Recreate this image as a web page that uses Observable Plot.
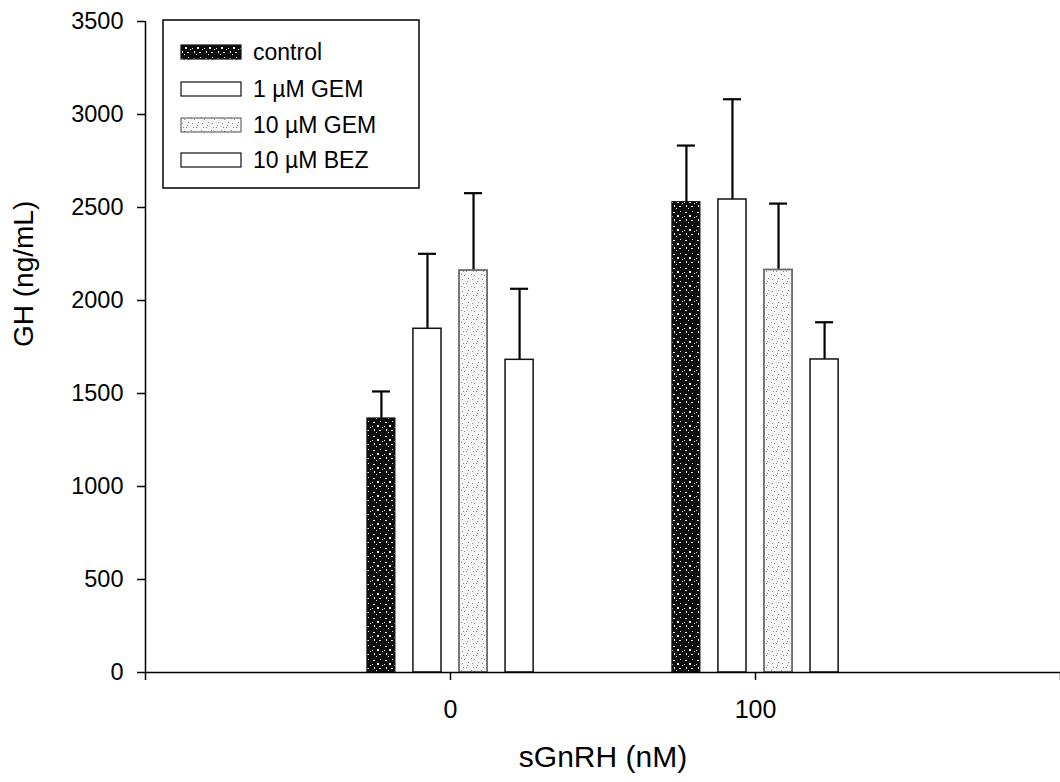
<!DOCTYPE html>
<html>
<head>
<meta charset="utf-8">
<script src="https://cdn.jsdelivr.net/npm/d3@7"></script>
<script src="https://cdn.jsdelivr.net/npm/@observablehq/plot@0.6"></script>
<style>
  html, body { margin: 0; padding: 0; background: #fff; }
  #chart svg { display: block; }
</style>
</head>
<body>
<div id="chart"></div>
<script>
// ---- data ----
const doses = [0, 100];
const series = ["control", "1 µM GEM", "10 µM GEM", "10 µM BEZ"];
const mean0 = [1366, 1848, 2161, 1681];
const err0 = [145, 403, 416, 382];
const mean100 = [2529, 2543, 2164, 1683];
const err100 = [304, 539, 357, 200];
const xTicks = [-100, 0, 100, 200];
const xTickLabels = ["", "0", "100", ""];
const yTicks = [0, 500, 1000, 1500, 2000, 2500, 3000, 3500];
const xTitle = "sGnRH (nM)";
const yTitle = "GH (ng/mL)";

// ---- table built from the arrays ----
const means = [mean0, mean100];
const errs = [err0, err100];
const rows = [];
doses.forEach((dose, gi) => {
  series.forEach((s, si) => {
    rows.push({dose, series: s, mean: means[gi][si], err: errs[gi][si]});
  });
});

// within-group offset (data units of x)
const inner = d3.scaleBand().domain(series).range([-30.2, 30.2]).paddingInner(0.39).paddingOuter(0.195);
const bw = inner.bandwidth();
const left = d => d.dose + inner(d.series);
const center = d => left(d) + bw / 2;
const capHalf = 2.95;

// styles
const fills = ["url(#pCtrl)", "#ffffff", "url(#pGem)", "#ffffff"];
const strokes = ["#111111", "#111111", "#6a6a6a", "#111111"];
const strokeWidths = [1, 1.5, 1.8, 1.5];

const font = "'Liberation Sans', Arial, Helvetica, sans-serif";

const barMarks = series.map((s, i) =>
  Plot.rect(rows.filter(d => d.series === s), {
    x1: left,
    x2: d => left(d) + bw,
    y1: 0,
    y2: "mean",
    fill: fills[i],
    stroke: strokes[i],
    strokeWidth: strokeWidths[i]
  })
);

const chart = Plot.plot({
  width: 1060,
  height: 782,
  marginLeft: 145,
  marginRight: 0,
  marginTop: 21,
  marginBottom: 110,
  style: {fontFamily: font, background: "#fff", color: "#000", fontSize: "22px"},
  x: {domain: [-100, 200]},
  y: {domain: [0, 3500]},
  marks: [
    Plot.ruleX(rows, {x: center, y1: "mean", y2: d => d.mean + d.err, stroke: "#000", strokeWidth: 2.2}),
    Plot.ruleY(rows, {y: d => d.mean + d.err, x1: d => center(d) - capHalf, x2: d => center(d) + capHalf, stroke: "#000", strokeWidth: 2.2}),
    ...barMarks,
    Plot.ruleY([0], {stroke: "#000", strokeWidth: 1.5}),
    Plot.ruleX([-100], {stroke: "#000", strokeWidth: 1.5}),
    Plot.axisX({
      ticks: xTicks,
      tickFormat: d => xTickLabels[xTicks.indexOf(d)],
      tickSize: 8,
      tickPadding: 20,
      fontSize: 25,
      label: null,
      stroke: "#000",
      strokeWidth: 1.5
    }),
    Plot.axisY({
      ticks: yTicks,
      tickFormat: d => String(d),
      tickSize: 8,
      tickPadding: 14,
      fontSize: 23.5,
      label: null,
      stroke: "#000",
      strokeWidth: 1.5
    }),
    Plot.text([yTitle], {frameAnchor: "left", dx: -121, rotate: -90, fontSize: 28, fill: "#000"}),
    Plot.text([xTitle], {frameAnchor: "bottom", dy: 94, fontSize: 30, fill: "#000"})
  ]
});

document.getElementById("chart").appendChild(chart);

// ---- patterns and in-plot legend ----
const svg = d3.select(chart);
const defs = svg.insert("defs", ":first-child");

const pc = defs.append("pattern").attr("id", "pCtrl").attr("patternUnits", "userSpaceOnUse")
  .attr("width", 12).attr("height", 14);
pc.append("rect").attr("width", 12).attr("height", 14).attr("fill", "#0d0d0d");
[[1,2,2,1],[5,5,2,2],[8,1,1,1],[2,9,1,2],[7,10,2,1],[10,7,1,1],[4,12,1,1],[0,6,1,1]].forEach(([x,y,w,h]) =>
  pc.append("rect").attr("x", x).attr("y", y).attr("width", w).attr("height", h).attr("fill", "#e8e8e8"));

const pg = defs.append("pattern").attr("id", "pGem").attr("patternUnits", "userSpaceOnUse")
  .attr("width", 10).attr("height", 12);
pg.append("rect").attr("width", 10).attr("height", 12).attr("fill", "#f6f6f6");
[[2,3,1,1],[6,7,1,1],[1,10,1,1],[8,2,1,1],[4,11,1,1],[7,5,1,1],[3,7,1,1]].forEach(([x,y,w,h]) =>
  pg.append("rect").attr("x", x).attr("y", y).attr("width", w).attr("height", h).attr("fill", "#8a8a8a"));

const lg = svg.append("g")
  .style("font-family", font)
  .style("font-size", "23px")
  .attr("text-anchor", "start");
lg.append("rect").attr("x", 163).attr("y", 20).attr("width", 256).attr("height", 168)
  .attr("fill", "#fff").attr("stroke", "#000").attr("stroke-width", 1.5);
const rowY = [52, 89, 125, 160];
series.forEach((s, i) => {
  lg.append("rect").attr("x", 181).attr("y", rowY[i] - 7).attr("width", 60).attr("height", 14)
    .attr("fill", fills[i]).attr("stroke", strokes[i]).attr("stroke-width", 1.2);
  lg.append("text").attr("x", 253).attr("y", rowY[i]).attr("dy", "0.36em")
    .attr("text-anchor", "start").attr("fill", "#000").text(s);
});
</script>
</body>
</html>
